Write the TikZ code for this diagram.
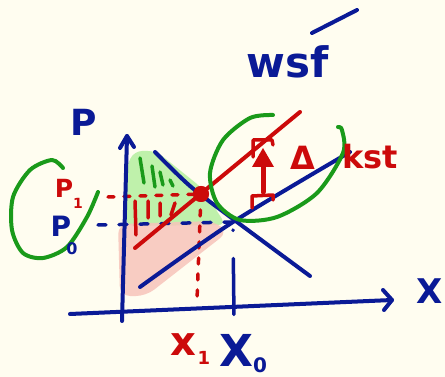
\documentclass[tikz,border=0pt]{standalone}
\usepackage{fontspec}
\setmainfont{DejaVu Sans}
\definecolor{bg}{HTML}{FFFDF0}
\definecolor{pblue}{HTML}{0A1A96}
\definecolor{pred}{HTML}{CC0A0A}
\definecolor{pgreen}{HTML}{1A9A1A}
\definecolor{lgreen}{HTML}{B4F0A0}
\definecolor{lpink}{HTML}{F7C4BA}
\tikzset{
  pen/.style={line width=4pt, line cap=round, line join=round},
  bluepen/.style={pen, draw=pblue},
  redpen/.style={pen, draw=pred},
  greenpen/.style={pen, draw=pgreen},
  reddash/.style={redpen, line width=3.5pt, dash pattern=on 6pt off 10pt},
  bluedash/.style={bluepen, line width=3.5pt, dash pattern=on 8pt off 13pt},
  lbl/.style={inner sep=0pt, font=\bfseries},
}
\newcommand{\fs}[1]{\fontsize{#1}{#1}\selectfont}
\begin{document}
\begin{tikzpicture}[x=1pt,y=-1pt]
\fill[bg] (0,0) rectangle (445,377);
\useasboundingbox (0,0) rectangle (445,377);
% shaded areas
\fill[lgreen, fill opacity=0.85, rounded corners=8pt]
  (126,168) -- (134,151) -- (156,151) -- (202,188) -- (226,225) -- (126,226) -- cycle;
\fill[lpink, fill opacity=0.85, rounded corners=10pt]
  (118,224) -- (214,221) -- (228,232) -- (146,296) -- (120,296) -- cycle;
% hatch marks
\draw[greenpen, line width=3.5pt] (140,158) -- (144,183) (152,166) -- (155,187) (160,172) -- (163,185) (170,180) -- (173,186);
\draw[redpen, line width=3.5pt] (135,201) -- (136,235) (148,201) -- (148,218) (160,203) -- (160,216) (175,203) -- (171,215);
% dashed helpers
\coordinate (p1l) at (108,197);
\coordinate (p0l) at (98,225);
\coordinate (x1b) at (197,300);
\coordinate (eqt) at (233,230);
\coordinate (x0b) at (234,318);
\node[circle, fill=pred, inner sep=0pt, minimum size=16pt] (E1) at (201,194) {};
\draw[reddash] (p1l) -- (E1.center);
\draw[reddash] (E1.center) -- (x1b);
\draw[bluedash] (p0l) -- (232,222);
\draw[bluepen, line width=3.5pt, dash pattern=on 0.5pt off 28pt on 56pt off 20pt] (eqt) -- (x0b);
% axes
\coordinate (yb) at (122,321);
\coordinate (yt) at (127,136);
\coordinate (xl) at (70,314);
\coordinate (xr) at (392,300);
\draw[bluepen] (yb) -- (yt);
\draw[bluepen] (120,148) -- (yt) -- (134,147);
\draw[bluepen] (xl) -- (xr);
\draw[bluepen] (383,290) -- (xr) -- (384,310);
% curves
\draw[bluepen] plot[smooth] coordinates {(155,152) (190,186) (233,219) (310,276)};
\draw[bluepen] plot[smooth] coordinates {(140,287) (233,222) (350,152)};
\draw[redpen] (135,248) -- (300,112);
\node[circle, fill=pred, inner sep=0pt, minimum size=16pt] at (E1) {};
% green loops
\draw[greenpen] plot[smooth] coordinates {(63,168) (52,160) (30,170) (13,197) (12,230) (23,253) (43,258) (67,247) (87,217) (98,192)};
\draw[greenpen] plot[smooth] coordinates {(273,115) (250,118) (223,140) (210,173) (217,203) (240,220) (277,217) (317,193) (343,153) (342,130) (338,127)};
% red arrow with brackets
\draw[redpen, line width=3.5pt] (253,157) -- (253,140) -- (272,140) -- (273,145);
\draw[redpen, line width=3.5pt] (252,208) -- (252,196) -- (273,195) -- (273,200);
\draw[redpen, line width=5pt] (263,192) -- (263,160);
\fill[pred] (263,148) -- (274,167) -- (252,167) -- cycle;
% labels
\node[lbl, text=pblue, font=\bfseries\fs{36}] (P) at (84,122) {P};
\node[lbl, text=pblue, font=\bfseries\fs{34}] (X) at (430,291) {X};
\node[lbl, text=pblue, font=\bfseries\fs{42}] (wsf) at (288,62) {wsf};
\draw[bluepen] (312,33) -- (357,10);
\node[lbl, text=pred, font=\bfseries\fs{32}] (D) at (303,158) {Δ};
\node[lbl, text=pred, font=\bfseries\fs{32}] (kst) at (370,157) {kst};
\node[lbl, text=pred, font=\bfseries\fs{25}] (P1) at (64,188) {P};
\node[lbl, text=pred, font=\bfseries\fs{14}] (P1s) at (78,203) {1};
\node[lbl, text=pblue, font=\bfseries\fs{28}] (P0) at (61,226) {P};
\node[lbl, text=pblue, font=\bfseries\fs{16}] (P0s) at (72,249) {0};
\node[lbl, text=pred, font=\bfseries\fs{40}] (x1) at (183,345) {x};
\node[lbl, text=pred, font=\bfseries\fs{18}] (x1s) at (204,358) {1};
\node[lbl, text=pblue, font=\bfseries\fs{44}] (X0) at (236,350) {X};
\node[lbl, text=pblue, font=\bfseries\fs{20}] (X0s) at (260,365) {0};
\end{tikzpicture}
\end{document}
